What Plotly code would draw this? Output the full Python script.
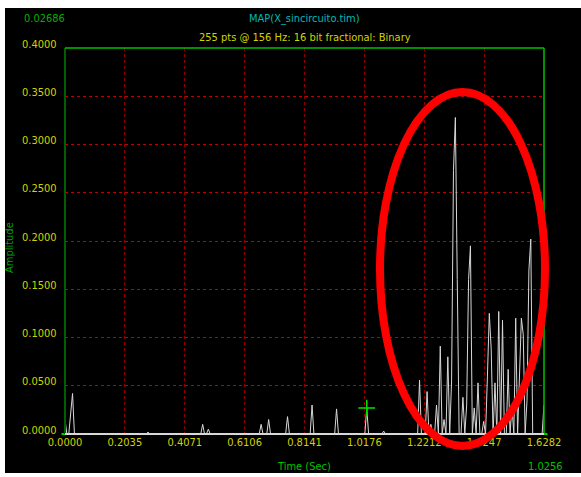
import plotly.graph_objects as go

# ---- data ----
n_points = 255
sample_rate = 156.0
# sample indices that are non-zero and their amplitudes (all others are 0)
peak_idx = [0, 3, 4, 44, 73, 76, 104, 108, 118, 131, 144, 160, 169,
            188, 192, 194, 197, 199, 201, 203, 205, 206, 207, 208,
            211, 213, 214, 215, 217, 219, 222, 224, 225, 226, 228, 230, 232,
            235, 237, 239, 241, 242, 243, 245, 246, 247, 254]
peak_val = [0.015, 0.025, 0.042, 0.002, 0.010, 0.005, 0.010, 0.015, 0.018, 0.030, 0.026, 0.02686, 0.003,
            0.056, 0.044, 0.010, 0.030, 0.091, 0.015, 0.080, 0.055, 0.273, 0.328, 0.160,
            0.038, 0.030, 0.160, 0.195, 0.027, 0.053, 0.013, 0.060, 0.125, 0.088, 0.053, 0.127, 0.118,
            0.067, 0.029, 0.120, 0.050, 0.120, 0.103, 0.035, 0.170, 0.202, 0.030]
cursor_idx = 160
y_ticks = [0.0, 0.05, 0.10, 0.15, 0.20, 0.25, 0.30, 0.35, 0.40]
x_ticks = [0.0, 0.2035, 0.4071, 0.6106, 0.8141, 1.0176, 1.2212, 1.4247, 1.6282]
title_text = "MAP(X_sincircuito.tim)"
subtitle_text = "255 pts @ 156 Hz: 16 bit fractional: Binary"

time = [i / sample_rate for i in range(n_points)]
amp = [0.0] * n_points
for i, v in zip(peak_idx, peak_val):
    amp[i] = v

# ---- layout geometry (pixels) ----
W, H = 581, 477
L, R, T, B = 65, 544, 48, 434


def px(p):
    return (p - L) / (R - L)


def py(p):
    return (B - p) / (B - T)


FONT = "Liberation Sans Narrow, DejaVu Sans Condensed, Liberation Mono"
YEL = "#d2d200"
GRN = "#00c000"

fig = go.Figure()
fig.add_trace(go.Scatter(x=time, y=amp, mode="lines",
                         line=dict(color="#d8d8d8", width=1), hoverinfo="skip"))
mk_x = [time[i] for i in peak_idx]
fig.add_trace(go.Scatter(x=mk_x, y=[0] * len(mk_x), mode="markers", cliponaxis=False,
                         marker=dict(symbol="line-ew", size=5,
                                     line=dict(color="#00d000", width=2))))
fig.add_trace(go.Scatter(x=[time[cursor_idx]], y=[amp[cursor_idx]], mode="markers",
                         cliponaxis=False,
                         marker=dict(symbol="cross-thin", size=12,
                                     line=dict(color="#00e000", width=1.5))))

shapes = [
    # white outer border strips
    dict(type="rect", xref="paper", yref="paper", x0=px(0), x1=px(5), y0=py(H), y1=py(0),
         fillcolor="white", line=dict(width=0), layer="below"),
    dict(type="rect", xref="paper", yref="paper", x0=px(0), x1=px(W), y0=py(8), y1=py(0),
         fillcolor="white", line=dict(width=0), layer="below"),
    dict(type="rect", xref="paper", yref="paper", x0=px(0), x1=px(W), y0=py(H), y1=py(473),
         fillcolor="white", line=dict(width=0), layer="below"),
    # frame
    dict(type="line", xref="paper", yref="paper", x0=0, x1=0, y0=0, y1=1,
         line=dict(color="#006000", width=2)),
    dict(type="line", xref="paper", yref="paper", x0=0, x1=1, y0=1, y1=1,
         line=dict(color=GRN, width=1.5)),
    dict(type="line", xref="paper", yref="paper", x0=1, x1=1, y0=0, y1=1,
         line=dict(color=GRN, width=1.5)),
    dict(type="line", xref="paper", yref="paper", x0=0, x1=1, y0=0, y1=0,
         line=dict(color="#d8d8d8", width=2)),
    # red ellipse annotation
    dict(type="circle", xref="paper", yref="paper", x0=px(380), x1=px(545), y0=py(446), y1=py(92),
         line=dict(color="#ff0000", width=8)),
]

annotations = [
    dict(text=f"{amp[cursor_idx]:.5f}", x=px(44), y=py(19), font=dict(color="#00b000", size=11)),
    dict(text=title_text, x=px(304.5), y=py(19), font=dict(color="#00b8b8", size=11)),
    dict(text=subtitle_text, x=px(304.5), y=py(38), font=dict(color=YEL, size=11)),
    dict(text="Amplitude", x=px(9), y=py(248), textangle=-90, font=dict(color="#00a000", size=11)),
    dict(text="Time (Sec)", x=px(304), y=py(466), font=dict(color=GRN, size=11)),
    dict(text=f"{time[cursor_idx]:.4f}", x=px(545), y=py(466), font=dict(color=GRN, size=11)),
]
for a in annotations:
    a.update(xref="paper", yref="paper", showarrow=False, xanchor="center", yanchor="middle")
    a["font"]["family"] = FONT

# y tick labels, drawn slightly above their grid lines as in the reference
for v in y_ticks:
    annotations.append(dict(text=f"{v:.4f}", xref="paper", yref="y", x=0, y=v,
                            xanchor="right", yanchor="middle", xshift=-6, yshift=4,
                            showarrow=False, font=dict(family=FONT, size=11, color=YEL)))

fig.update_layout(
    width=W, height=H,
    margin=dict(l=L, r=W - R, t=T, b=H - B, pad=0),
    paper_bgcolor="black", plot_bgcolor="black",
    showlegend=False,
    shapes=shapes, annotations=annotations,
    font=dict(family=FONT, size=11, color=YEL),
)
fig.update_xaxes(range=[0, (n_points - 1) / sample_rate], tickvals=x_ticks, tickformat=".4f",
                 showgrid=True, gridcolor="#900000", griddash="dot", gridwidth=1,
                 zeroline=False, showline=False, ticks="",
                 tickfont=dict(family=FONT, size=11, color=YEL))
fig.update_yaxes(range=[0, 0.4], tickvals=y_ticks, showticklabels=False,
                 showgrid=True, gridcolor="#c00000", griddash="dot", gridwidth=1,
                 zeroline=False, showline=False, ticks="")

fig.write_html("out.html")
